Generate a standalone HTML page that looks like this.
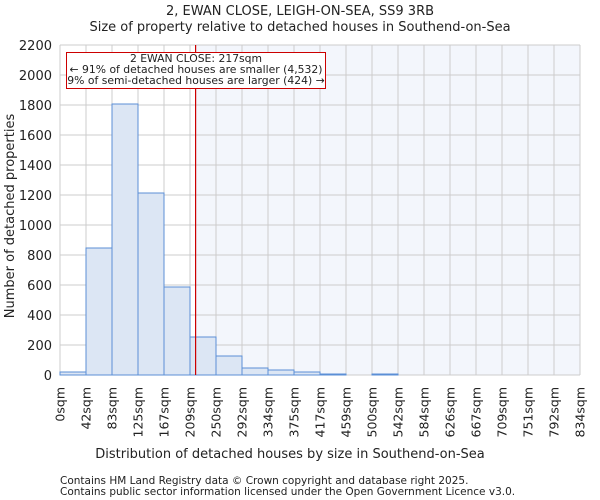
<!DOCTYPE html>
<html><head><meta charset="utf-8"><style>body{margin:0;background:#fff}svg{display:block}text{font-family:"DejaVu Sans","Liberation Sans",sans-serif;fill:#222}</style></head><body>
<svg width="600" height="500" viewBox="0 0 600 500">
<rect x="196" y="45" width="384" height="330" fill="#f3f6fc"/>
<g stroke="#cccccc" stroke-width="1">
<line x1="60" y1="45" x2="580" y2="45"/><line x1="60" y1="75" x2="580" y2="75"/><line x1="60" y1="105" x2="580" y2="105"/><line x1="60" y1="135" x2="580" y2="135"/><line x1="60" y1="165" x2="580" y2="165"/><line x1="60" y1="195" x2="580" y2="195"/><line x1="60" y1="225" x2="580" y2="225"/><line x1="60" y1="255" x2="580" y2="255"/><line x1="60" y1="285" x2="580" y2="285"/><line x1="60" y1="315" x2="580" y2="315"/><line x1="60" y1="345" x2="580" y2="345"/><line x1="60" y1="375" x2="580" y2="375"/>
<line x1="60" y1="45" x2="60" y2="375"/><line x1="86" y1="45" x2="86" y2="375"/><line x1="112" y1="45" x2="112" y2="375"/><line x1="138" y1="45" x2="138" y2="375"/><line x1="164" y1="45" x2="164" y2="375"/><line x1="190" y1="45" x2="190" y2="375"/><line x1="216" y1="45" x2="216" y2="375"/><line x1="242" y1="45" x2="242" y2="375"/><line x1="268" y1="45" x2="268" y2="375"/><line x1="294" y1="45" x2="294" y2="375"/><line x1="320" y1="45" x2="320" y2="375"/><line x1="346" y1="45" x2="346" y2="375"/><line x1="372" y1="45" x2="372" y2="375"/><line x1="398" y1="45" x2="398" y2="375"/><line x1="424" y1="45" x2="424" y2="375"/><line x1="450" y1="45" x2="450" y2="375"/><line x1="476" y1="45" x2="476" y2="375"/><line x1="502" y1="45" x2="502" y2="375"/><line x1="528" y1="45" x2="528" y2="375"/><line x1="554" y1="45" x2="554" y2="375"/><line x1="580" y1="45" x2="580" y2="375"/>
</g>
<g fill="#dce6f4" stroke="#5b8fd6" stroke-width="1">
<rect x="60" y="372" width="26" height="3"/>
<rect x="86" y="248" width="26" height="127"/>
<rect x="112" y="104" width="26" height="271"/>
<rect x="138" y="193" width="26" height="182"/>
<rect x="164" y="287" width="26" height="88"/>
<rect x="190" y="337" width="26" height="38"/>
<rect x="216" y="356" width="26" height="19"/>
<rect x="242" y="368" width="26" height="7"/>
<rect x="268" y="370" width="26" height="5"/>
<rect x="294" y="372" width="26" height="3"/>
<rect x="320" y="374" width="26" height="1"/>
<rect x="372" y="374" width="26" height="1"/>
</g>
<line x1="195.6" y1="45" x2="195.6" y2="375" stroke="#cc0000" stroke-width="1.2"/>
<rect x="66.5" y="52.5" width="259" height="36" fill="#fff" stroke="#cc0000"/>
<g font-size="10.8" text-anchor="middle"><text x="196" y="62">2 EWAN CLOSE: 217sqm</text><text x="196" y="73">← 91% of detached houses are smaller (4,532)</text><text x="196" y="84">9% of semi-detached houses are larger (424) →</text></g>
<g font-size="13" text-anchor="end"><text x="52" y="50">2200</text><text x="52" y="80">2000</text><text x="52" y="110">1800</text><text x="52" y="140">1600</text><text x="52" y="170">1400</text><text x="52" y="200">1200</text><text x="52" y="230">1000</text><text x="52" y="260">800</text><text x="52" y="290">600</text><text x="52" y="320">400</text><text x="52" y="350">200</text><text x="52" y="380">0</text></g>
<g font-size="12.5" text-anchor="end">
<text transform="translate(64.5,387) rotate(-90)">0sqm</text><text transform="translate(90.5,387) rotate(-90)">42sqm</text><text transform="translate(116.5,387) rotate(-90)">83sqm</text><text transform="translate(142.5,387) rotate(-90)">125sqm</text><text transform="translate(168.5,387) rotate(-90)">167sqm</text><text transform="translate(194.5,387) rotate(-90)">209sqm</text><text transform="translate(220.5,387) rotate(-90)">250sqm</text><text transform="translate(246.5,387) rotate(-90)">292sqm</text><text transform="translate(272.5,387) rotate(-90)">334sqm</text><text transform="translate(298.5,387) rotate(-90)">375sqm</text><text transform="translate(324.5,387) rotate(-90)">417sqm</text><text transform="translate(350.5,387) rotate(-90)">459sqm</text><text transform="translate(376.5,387) rotate(-90)">500sqm</text><text transform="translate(402.5,387) rotate(-90)">542sqm</text><text transform="translate(428.5,387) rotate(-90)">584sqm</text><text transform="translate(454.5,387) rotate(-90)">626sqm</text><text transform="translate(480.5,387) rotate(-90)">667sqm</text><text transform="translate(506.5,387) rotate(-90)">709sqm</text><text transform="translate(532.5,387) rotate(-90)">751sqm</text><text transform="translate(558.5,387) rotate(-90)">792sqm</text><text transform="translate(584.5,387) rotate(-90)">834sqm</text>
</g>
<g text-anchor="middle" font-size="13"><text x="300" y="15">2, EWAN CLOSE, LEIGH-ON-SEA, SS9 3RB</text><text x="300" y="31">Size of property relative to detached houses in Southend-on-Sea</text><text x="290" y="458">Distribution of detached houses by size in Southend-on-Sea</text><text transform="translate(14,216) rotate(-90)">Number of detached properties</text></g>
<g font-size="10.5"><text x="60" y="484">Contains HM Land Registry data © Crown copyright and database right 2025.</text><text x="60" y="495">Contains public sector information licensed under the Open Government Licence v3.0.</text></g>
</svg>
</body></html>
